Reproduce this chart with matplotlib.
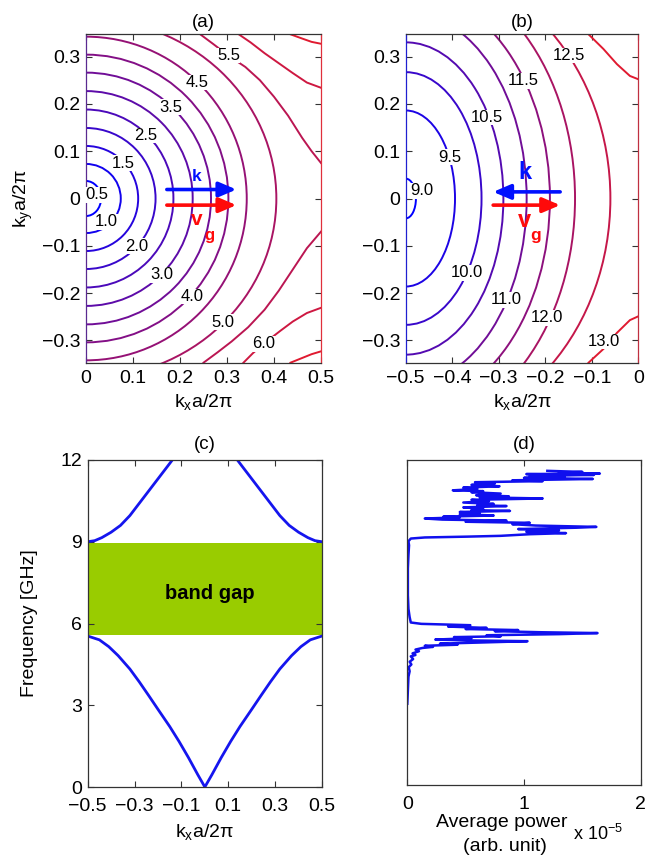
import matplotlib
matplotlib.use('Agg')
import matplotlib.pyplot as plt
from matplotlib.patches import Ellipse
from matplotlib.colors import LinearSegmentedColormap, Normalize

plt.rcParams['font.family'] = ['Liberation Sans', 'DejaVu Sans']
plt.rcParams['mathtext.fontset'] = 'custom'
plt.rcParams['mathtext.rm'] = 'Liberation Sans'
plt.rcParams['mathtext.it'] = 'Liberation Sans:italic'
plt.rcParams['mathtext.bf'] = 'Liberation Sans:bold'

# ---------------- data ----------------
# (a) lower band iso-frequency contours (GHz), closed ones around Gamma: semi-axes in kx, ky
a_levels = [0.5, 1.0, 1.5, 2.0, 2.5, 3.0, 3.5, 4.0, 4.5, 5.0]
a_rx = [0.032, 0.074, 0.111, 0.148, 0.186, 0.227, 0.266, 0.303, 0.342, 0.405]
a_ry = [0.037, 0.073, 0.111, 0.149, 0.188, 0.227, 0.266, 0.304, 0.342, 0.380]
# (a) open contours near the zone boundary
a55_top_kx = [0.243, 0.27, 0.303, 0.339, 0.37, 0.40, 0.43, 0.46, 0.48, 0.50]
a55_top_ky = [0.347, 0.327, 0.302, 0.278, 0.250, 0.215, 0.175, 0.128, 0.100, 0.075]
a55_bot_kx = [0.25, 0.28, 0.31, 0.345, 0.38, 0.41, 0.44, 0.47, 0.50]
a55_bot_ky = [-0.347, -0.325, -0.302, -0.272, -0.235, -0.195, -0.150, -0.105, -0.070]
a60_top_kx = [0.325, 0.35, 0.38, 0.41, 0.44, 0.47, 0.50]
a60_top_ky = [0.347, 0.330, 0.307, 0.286, 0.265, 0.245, 0.234]
a60_bot_kx = [0.335, 0.355, 0.378, 0.413, 0.44, 0.47, 0.50]
a60_bot_ky = [-0.347, -0.327, -0.307, -0.280, -0.260, -0.242, -0.231]
a65_top_kx = [0.435, 0.46, 0.48, 0.50]
a65_top_ky = [0.347, 0.338, 0.331, 0.327]
a65_bot_kx = [0.435, 0.46, 0.48, 0.50]
a65_bot_ky = [-0.347, -0.337, -0.329, -0.323]
a_label_text = ['0.5', '1.0', '1.5', '2.0', '2.5', '3.0', '3.5', '4.0', '4.5', '5.0', '5.5', '6.0']
a_label_kx = [0.023, 0.044, 0.080, 0.108, 0.126, 0.161, 0.180, 0.225, 0.237, 0.291, 0.303, 0.378]
a_label_ky = [0.008, -0.049, 0.075, -0.101, 0.133, -0.161, 0.193, -0.207, 0.245, -0.261, 0.302, -0.307]

# (b) upper band contours around X' (-0.5, 0)
b_levels = [9.0, 9.5, 10.0, 10.5, 11.0, 11.5, 12.0, 12.5]
b_rx = [0.022, 0.106, 0.163, 0.210, 0.260, 0.310, 0.364, 0.440]
b_ry = [0.042, 0.186, 0.267, 0.330, 0.394, 0.440, 0.487, 0.500]
b130_top_kx = [-0.107, -0.075, -0.046, -0.018, 0.0]
b130_top_ky = [0.347, 0.316, 0.284, 0.259, 0.252]
b130_bot_kx = [-0.107, -0.075, -0.046, -0.018, 0.0]
b130_bot_ky = [-0.347, -0.318, -0.284, -0.257, -0.249]
b_label_text = ['9.0', '9.5', '10.0', '10.5', '11.0', '11.5', '12.0', '12.5', '13.0']
b_label_kx = [-0.466, -0.405, -0.369, -0.326, -0.283, -0.247, -0.197, -0.150, -0.075]
b_label_ky = [0.016, 0.087, -0.157, 0.171, -0.214, 0.249, -0.252, 0.302, -0.302]

# (c) band structure along kx
c_low_kx = [-0.5, -0.45, -0.41, -0.37, -0.32, -0.28, -0.24, -0.2, -0.15, -0.11, -0.07, -0.03, 0.0,
            0.03, 0.07, 0.11, 0.15, 0.2, 0.24, 0.28, 0.32, 0.37, 0.41, 0.45, 0.5]
c_low_f = [5.54, 5.40, 5.15, 4.82, 4.33, 3.86, 3.36, 2.85, 2.22, 1.67, 1.08, 0.45, 0.0,
           0.45, 1.08, 1.67, 2.22, 2.85, 3.36, 3.86, 4.33, 4.82, 5.15, 5.40, 5.54]
c_up_left_kx = [-0.5, -0.47, -0.44, -0.4, -0.36, -0.32, -0.28, -0.24, -0.2, -0.16, -0.13, -0.1]
c_up_left_f = [9.0, 9.04, 9.15, 9.35, 9.60, 9.96, 10.41, 10.86, 11.31, 11.76, 12.10, 12.45]
c_up_right_kx = [0.1, 0.13, 0.16, 0.2, 0.24, 0.28, 0.32, 0.36, 0.4, 0.44, 0.47, 0.5]
c_up_right_f = [12.45, 12.10, 11.76, 11.31, 10.86, 10.41, 9.96, 9.60, 9.35, 9.15, 9.04, 9.0]
gap_low, gap_high = 5.58, 8.95

# (d) average power spectrum (x 1e-5, arb. unit)
d_freq = [3.0, 3.5, 4.0, 4.2, 4.35, 4.45, 4.55, 4.65, 4.75, 4.8, 4.86, 4.94, 5.0, 5.06, 5.1, 5.14,
          5.18, 5.22, 5.26, 5.31, 5.34, 5.37, 5.42, 5.46, 5.49, 5.53, 5.57, 5.61, 5.64, 5.68, 5.72,
          5.76, 5.8, 5.85, 5.9, 5.95, 6.0, 6.2, 6.5, 7.0, 7.5, 8.0, 8.5, 8.85, 9.0, 9.1, 9.14, 9.17,
          9.2, 9.26, 9.3, 9.35, 9.4, 9.45, 9.5, 9.53, 9.58, 9.63, 9.68, 9.72, 9.76, 9.8, 9.84, 9.88,
          9.91, 9.95, 10.0, 10.04, 10.08, 10.12, 10.15, 10.2, 10.25, 10.3, 10.33, 10.38, 10.43,
          10.48, 10.53, 10.58, 10.62, 10.66, 10.7, 10.76, 10.81, 10.85, 10.88, 10.93, 10.98, 11.03,
          11.08, 11.13, 11.18, 11.22, 11.25, 11.3, 11.34, 11.37, 11.41, 11.45, 11.48, 11.5, 11.53,
          11.56, 11.6]
d_power = [0.0, 0.005, 0.01, 0.02, 0.012, 0.035, 0.02, 0.05, 0.03, 0.07, 0.045, 0.10, 0.07, 0.13,
           0.22, 0.15, 0.43, 0.28, 0.62, 1.03, 0.50, 0.24, 0.55, 0.40, 0.80, 0.68, 1.30, 1.63, 1.15,
           0.75, 0.95, 0.50, 0.68, 0.35, 0.54, 0.12, 0.03, 0.02, 0.01, 0.005, 0.005, 0.005, 0.01,
           0.015, 0.01, 0.03, 0.15, 0.51, 0.80, 1.05, 1.36, 1.02, 1.30, 0.95, 1.45, 1.62, 1.10, 0.90,
           1.05, 0.50, 0.85, 0.30, 0.15, 0.45, 0.31, 0.74, 0.45, 0.62, 0.45, 0.88, 0.55, 0.65, 0.48,
           0.85, 0.60, 0.74, 0.48, 0.70, 0.55, 1.16, 0.62, 0.87, 0.59, 0.80, 0.55, 0.65, 0.39, 0.60,
           0.48, 0.79, 0.55, 0.75, 0.58, 1.16, 0.90, 1.59, 1.00, 1.35, 1.05, 1.60, 1.02, 1.65, 1.30,
           1.50, 1.20]

# ---------------- figure ----------------
W, H = 645, 858
fig = plt.figure(figsize=(W / 100, H / 100), dpi=100)
cmap = LinearSegmentedColormap.from_list('br', ['#0000ff', '#e01a30'])
TICKFS = 14
LABFS = 14
CLFS = 12
LW = 1.4


def px_axes(l, t, r, b):
    return fig.add_axes([l / W, 1 - b / H, (r - l) / W, (b - t) / H])


def style(ax, xpad=5.5):
    ax.tick_params(direction='in', length=4, width=0.8, top=True, right=True,
                   labelsize=TICKFS, pad=4, color='#333333', labelcolor='black')
    ax.tick_params(axis='x', pad=xpad)
    for s in ax.spines.values():
        s.set_linewidth(0.9)
        s.set_color('#333333')


def clabel(ax, x, y, s):
    ax.text(x, y, s, fontsize=CLFS, ha='center', va='center', zorder=5,
            bbox=dict(facecolor='white', edgecolor='none', pad=0.3))


M = '\u2212'
ky_ticks = [-0.3, -0.2, -0.1, 0, 0.1, 0.2, 0.3]
ky_labels = [M + '0.3', M + '0.2', M + '0.1', '0', '0.1', '0.2', '0.3']

# ---- (a) ----
axa = px_axes(86, 34.3, 321, 362.7)
style(axa)
norm_a = Normalize(0.5, 6.5)
for lev, rx, ry in zip(a_levels, a_rx, a_ry):
    axa.add_patch(Ellipse((0, 0), 2 * rx, 2 * ry, fill=False, lw=LW, edgecolor=cmap(norm_a(lev))))
for lev, xs, ys in [(5.5, a55_top_kx, a55_top_ky), (5.5, a55_bot_kx, a55_bot_ky),
                    (6.0, a60_top_kx, a60_top_ky), (6.0, a60_bot_kx, a60_bot_ky),
                    (6.5, a65_top_kx, a65_top_ky), (6.5, a65_bot_kx, a65_bot_ky)]:
    axa.plot(xs, ys, color=cmap(norm_a(lev)), lw=LW)
for s, x, y in zip(a_label_text, a_label_kx, a_label_ky):
    clabel(axa, x, y, s)
axa.set_xlim(0, 0.5)
axa.set_ylim(-0.347, 0.347)
axa.set_xticks([0, 0.1, 0.2, 0.3, 0.4, 0.5], ['0', '0.1', '0.2', '0.3', '0.4', '0.5'])
axa.set_yticks(ky_ticks, ky_labels)
axa.spines['right'].set_color('#e0303c')
axa.spines['left'].set_color('#5a2a90')
axa.set_title('(a)', fontsize=13.5, pad=5.5)
axa.set_xlabel('k$_\\mathregular{x}$a/2\u03c0', fontsize=LABFS)
axa.xaxis.set_label_coords(0.5, -0.088)
axa.set_ylabel('k$_\\mathregular{y}$a/2\u03c0', fontsize=LABFS)
axa.yaxis.set_label_coords(-0.215, 0.5)
arr = dict(arrowstyle='-|>,head_length=0.75,head_width=0.32', lw=2.6, mutation_scale=14,
           shrinkA=0, shrinkB=0)
axa.annotate('', xy=(0.32, 0.019), xytext=(0.172, 0.019), arrowprops=dict(arr, color='#0010ff'))
axa.annotate('', xy=(0.32, -0.014), xytext=(0.172, -0.014), arrowprops=dict(arr, color='#ff0a0a'))
axa.text(0.236, 0.047, 'k', color='#0010ff', fontsize=12.5, fontweight='bold', ha='center', va='center')
axa.text(0.236, -0.044, 'v', color='#ff0a0a', fontsize=15, fontweight='bold', ha='center', va='center')
axa.text(0.262, -0.079, 'g', color='#ff0a0a', fontsize=12, fontweight='bold', ha='center', va='center')

# ---- (b) ----
axb = px_axes(405.7, 34.3, 638.3, 362.7)
style(axb)
norm_b = Normalize(9.0, 13.0)
for lev, rx, ry in zip(b_levels, b_rx, b_ry):
    axb.add_patch(Ellipse((-0.5, 0), 2 * rx, 2 * ry, fill=False, lw=LW, edgecolor=cmap(norm_b(lev))))
for xs, ys in [(b130_top_kx, b130_top_ky), (b130_bot_kx, b130_bot_ky)]:
    axb.plot(xs, ys, color=cmap(norm_b(13.0)), lw=LW)
for s, x, y in zip(b_label_text, b_label_kx, b_label_ky):
    clabel(axb, x, y, s)
axb.set_xlim(-0.5, 0)
axb.set_ylim(-0.347, 0.347)
axb.set_xticks([-0.5, -0.4, -0.3, -0.2, -0.1, 0],
               [M + '0.5', M + '0.4', M + '0.3', M + '0.2', M + '0.1', '0'])
axb.set_yticks(ky_ticks, ky_labels)
axb.spines['left'].set_color('#2020d0')
axb.spines['right'].set_color('#c03040')
axb.set_title('(b)', fontsize=13.5, pad=5.5)
axb.set_xlabel('k$_\\mathregular{x}$a/2\u03c0', fontsize=LABFS)
axb.xaxis.set_label_coords(0.5, -0.088)
axb.annotate('', xy=(-0.312, 0.014), xytext=(-0.168, 0.014), arrowprops=dict(arr, color='#0010ff'))
axb.annotate('', xy=(-0.168, -0.014), xytext=(-0.312, -0.014), arrowprops=dict(arr, color='#ff0a0a'))
axb.text(-0.243, 0.056, 'k', color='#0010ff', fontsize=17, fontweight='bold', ha='center', va='center')
axb.text(-0.245, -0.046, 'v', color='#ff0a0a', fontsize=17, fontweight='bold', ha='center', va='center')
axb.text(-0.220, -0.078, 'g', color='#ff0a0a', fontsize=12.5, fontweight='bold', ha='center', va='center')

# ---- (c) ----
axc = px_axes(87.7, 460, 322, 787)
style(axc, xpad=8)
axc.axhspan(gap_low, gap_high, color='#99cc00', lw=0, zorder=1)
axc.plot(c_low_kx, c_low_f, color='#1515ee', lw=2.0, zorder=2)
axc.plot(c_up_left_kx, c_up_left_f, color='#1515ee', lw=2.0, zorder=2)
axc.plot(c_up_right_kx, c_up_right_f, color='#1515ee', lw=2.0, zorder=2)
axc.text(0.02, 7.1, 'band gap', fontsize=14.5, fontweight='bold', ha='center', va='center', zorder=3)
axc.set_xlim(-0.5, 0.5)
axc.set_ylim(0, 12)
axc.set_xticks([-0.5, -0.3, -0.1, 0.1, 0.3, 0.5],
               [M + '0.5', M + '0.3', M + '0.1', '0.1', '0.3', '0.5'])
axc.set_yticks([0, 3, 6, 9, 12], ['0', '3', '6', '9', '12'])
axc.set_title('(c)', fontsize=13.5, pad=8)
axc.set_xlabel('k$_\\mathregular{x}$a/2\u03c0', fontsize=LABFS)
axc.xaxis.set_label_coords(0.5, -0.108)
axc.set_ylabel('Frequency [GHz]', fontsize=LABFS)
axc.yaxis.set_label_coords(-0.212, 0.5)

# ---- (d) ----
axd = px_axes(407.3, 460, 640.7, 785)
style(axd, xpad=8)
axd.plot(d_power, d_freq, color='#1010ee', lw=1.8)
axd.set_xlim(0, 2)
axd.set_ylim(0, 12)
axd.set_xticks([0, 1, 2], ['0', '1', '2'])
axd.set_yticks([])
axd.set_title('(d)', fontsize=13.5, pad=8)
axd.text(0.406, -0.116, 'Average power', transform=axd.transAxes, fontsize=LABFS, ha='center', va='center')
axd.text(0.42, -0.188, '(arb. unit)', transform=axd.transAxes, fontsize=LABFS, ha='center', va='center')
axd.text(0.71, -0.150, 'x 10$^{\\mathregular{\u22125}}$', transform=axd.transAxes, fontsize=13,
         ha='left', va='center')

fig.savefig('out.png', dpi=100)
